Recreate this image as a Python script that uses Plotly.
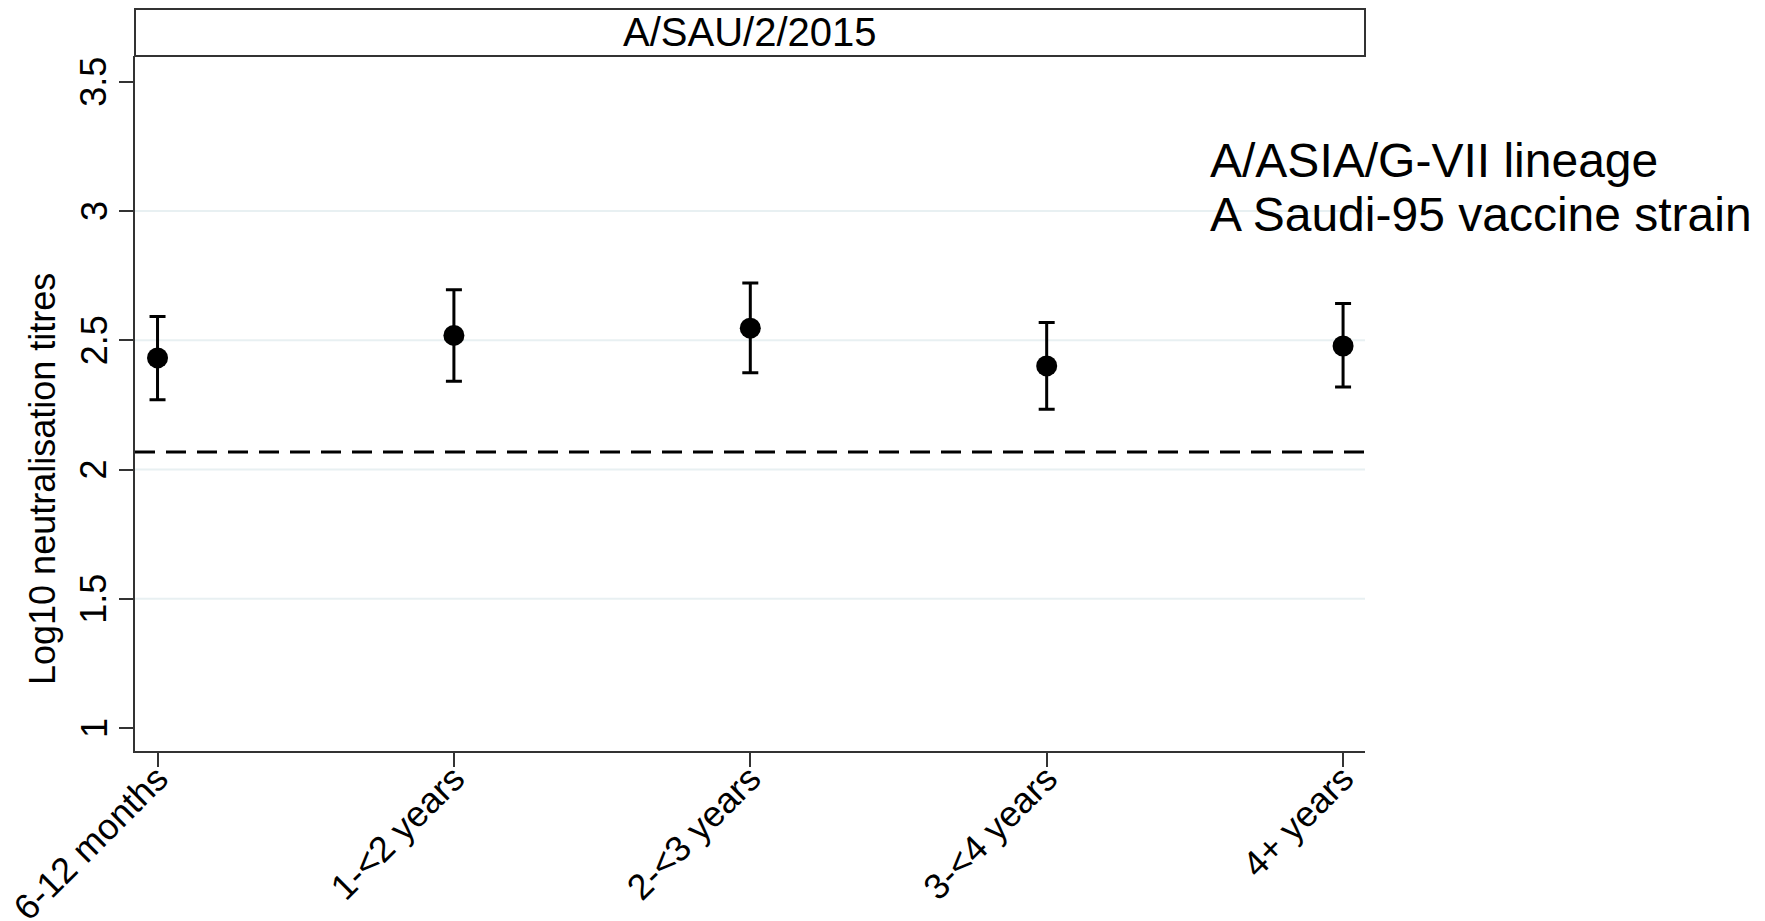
import plotly.graph_objects as go

# ---- data ----
categories = ["6-12 months", "1-<2 years", "2-<3 years", "3-<4 years", "4+ years"]
means = [2.432, 2.519, 2.547, 2.401, 2.478]
upper = [2.592, 2.696, 2.722, 2.569, 2.642]
lower = [2.270, 2.342, 2.374, 2.233, 2.319]
threshold = 2.068
y_ticks = [1, 1.5, 2, 2.5, 3, 3.5]
y_tick_labels = ["1", "1.5", "2", "2.5", "3", "3.5"]
grid_values = [1.5, 2, 2.5, 3]
panel_title = "A/SAU/2/2015"
side_note = ["A/ASIA/G-VII lineage", "A Saudi-95 vaccine strain"]
y_title = "Log10 neutralisation titres"

FONT = "Liberation Sans, Arial, sans-serif"
AX = "#333333"

err_plus = [u - m for u, m in zip(upper, means)]
err_minus = [m - l for m, l in zip(means, lower)]

fig = go.Figure()

fig.add_trace(go.Scatter(
    x=categories, y=means, mode="markers",
    marker=dict(color="black", size=21, symbol="circle"),
    error_y=dict(type="data", symmetric=False, array=err_plus, arrayminus=err_minus,
                 color="black", thickness=3, width=8),
    showlegend=False, hoverinfo="skip",
))

shapes = []
for g in grid_values:
    shapes.append(dict(type="line", xref="paper", yref="y", x0=0, x1=1, y0=g, y1=g,
                       line=dict(color="#e8f0f2", width=2), layer="below"))
shapes.append(dict(type="line", xref="paper", yref="y", x0=0, x1=1, y0=threshold, y1=threshold,
                   line=dict(color="black", width=3, dash="20px,11px")))

W, H = 1765, 921
l, r, t, b = 135, 400, 56, 170
ph = H - t - b
pw = W - l - r
strip_top = 1 + (56 - 9) / ph
shapes.append(dict(type="rect", xref="paper", yref="paper", x0=0, x1=1, y0=1, y1=strip_top,
                   line=dict(color=AX, width=2), fillcolor="white"))

annotations = [
    dict(text=panel_title, xref="paper", yref="paper", x=0.5, y=(1 + strip_top) / 2,
         showarrow=False, font=dict(family=FONT, size=40, color="black"),
         xanchor="center", yanchor="middle"),
    dict(text=y_title, xref="paper", yref="paper", x=(43 - l) / pw, y=1 - (479 - t) / ph,
         textangle=-90, showarrow=False, xanchor="center", yanchor="middle",
         font=dict(family=FONT, size=36, color="black")),
]
for i, line_text in enumerate(side_note):
    annotations.append(dict(text=line_text, xref="paper", yref="paper",
                            x=(1208 - l) / pw, y=1 - (160 + 54 * i - t) / ph,
                            showarrow=False, align="left", xanchor="left", yanchor="middle",
                            font=dict(family=FONT, size=48, color="black")))
# y tick labels (rotated, centred on their ticks)
for v, lab in zip(y_ticks, y_tick_labels):
    annotations.append(dict(text=lab, xref="paper", yref="y", x=(94 - l) / pw, y=v,
                            textangle=-90, showarrow=False, xanchor="center", yanchor="middle",
                            font=dict(family=FONT, size=36, color="black")))

fig.update_layout(
    width=W, height=H,
    margin=dict(l=l, r=r, t=t, b=b, autoexpand=False),
    paper_bgcolor="white", plot_bgcolor="white",
    shapes=shapes, annotations=annotations,
    font=dict(family=FONT, size=36, color="black"),
    xaxis=dict(
        type="category", categoryorder="array", categoryarray=categories,
        range=[-0.076, 4.074], showgrid=False, zeroline=False,
        showline=True, linecolor=AX, linewidth=2,
        ticks="outside", ticklen=14, tickwidth=2, tickcolor=AX,
        tickangle=-45, tickfont=dict(family=FONT, size=36, color="black"),
        ticklabelstandoff=-24,
        automargin=False,
    ),
    yaxis=dict(
        range=[0.911, 3.60], showgrid=False, zeroline=False,
        showline=True, linecolor=AX, linewidth=2,
        ticks="outside", ticklen=14, tickwidth=2, tickcolor=AX,
        tickvals=y_ticks, showticklabels=False,
        automargin=False,
    ),
)

fig.write_html("out.html", config={"displayModeBar": False},
               post_script="document.body.style.margin='0';document.body.style.overflow='hidden';")
